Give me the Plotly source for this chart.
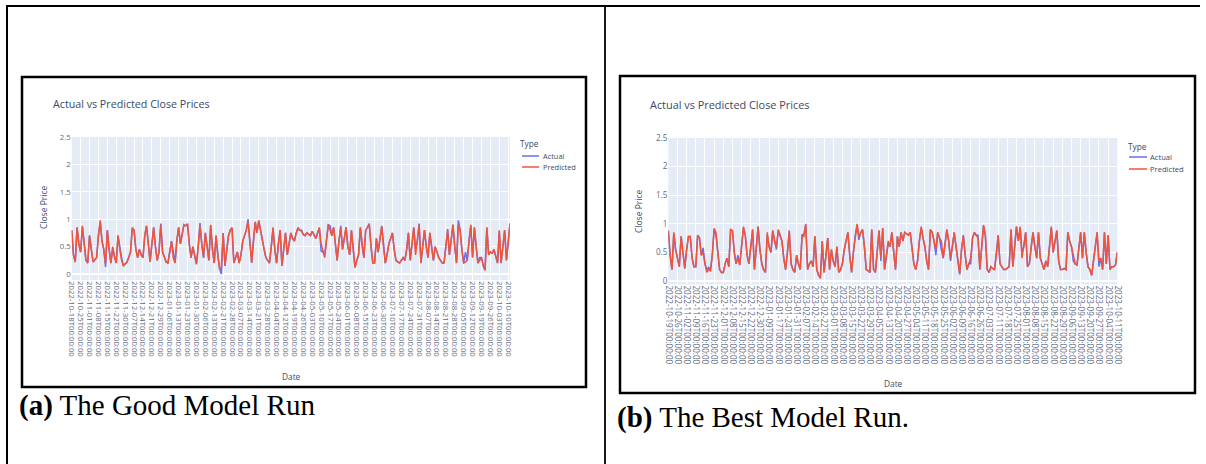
import plotly.graph_objects as go
import pandas as pd

W, H = 1206, 464

# NYSE holidays inside the period (categories are trading days)
holidays = ["2022-11-24", "2022-12-26", "2023-01-02", "2023-01-16", "2023-02-20",
            "2023-04-07", "2023-05-29", "2023-06-19", "2023-07-04", "2023-09-04"]
good_start = "2022-10-18"
best_start = "2022-10-19"

good_predicted = [
    0.80, 0.35, 0.22, 0.85, 0.55, 0.40, 0.88, 0.50, 0.25, 0.20,
    0.70, 0.45, 0.22, 0.26, 0.30, 0.70, 0.98, 0.60, 0.45, 0.18,
    0.80, 0.45, 0.20, 0.50, 0.30, 0.20, 0.70, 0.45, 0.25, 0.15,
    0.18, 0.22, 0.30, 0.40, 0.85, 0.80, 0.45, 0.30, 0.45, 0.35,
    0.30, 0.70, 0.88, 0.50, 0.22, 0.55, 0.85, 0.50, 0.25, 0.40,
    0.90, 0.40, 0.30, 0.22, 0.20, 0.40, 0.60, 0.30, 0.20, 0.60,
    0.85, 0.55, 0.70, 0.90, 0.88, 0.92, 0.55, 0.30, 0.50, 0.35,
    0.18, 0.50, 0.88, 0.55, 0.30, 0.75, 0.50, 0.25, 0.90, 0.45,
    0.20, 0.70, 0.35, 0.10, 0.12, 0.75, 0.15, 0.40, 0.70, 0.80,
    0.85, 0.20, 0.30, 0.40, 0.20, 0.35, 0.60, 0.70, 0.80, 0.95,
    0.55, 0.20, 0.60, 0.95, 0.75, 0.98, 0.80, 0.60, 0.45, 0.30,
    0.25, 0.20, 0.50, 0.85, 0.45, 0.20, 0.55, 0.80, 0.15, 0.45,
    0.75, 0.35, 0.55, 0.75, 0.65, 0.60, 0.75, 0.85, 0.80, 0.78,
    0.72, 0.70, 0.75, 0.72, 0.70, 0.78, 0.72, 0.65, 0.75, 0.85,
    0.55, 0.40, 0.30, 0.60, 0.90, 0.80, 0.70, 0.85, 0.55, 0.25,
    0.60, 0.85, 0.45, 0.65, 0.85, 0.50, 0.35, 0.80, 0.45, 0.12,
    0.25, 0.35, 0.85, 0.55, 0.30, 0.80, 0.85, 0.90, 0.50, 0.20,
    0.20, 0.65, 0.40, 0.60, 0.88, 0.50, 0.20, 0.35, 0.55, 0.65,
    0.75, 0.45, 0.25, 0.22, 0.20, 0.25, 0.30, 0.25, 0.45, 0.75,
    0.25, 0.55, 0.85, 0.35, 0.60, 0.90, 0.20, 0.50, 0.80, 0.50,
    0.30, 0.75, 0.45, 0.25, 0.50, 0.40, 0.30, 0.25, 0.20, 0.20,
    0.50, 0.80, 0.35, 0.60, 0.90, 0.50, 0.20, 0.90, 0.80, 0.45,
    0.20, 0.22, 0.25, 0.60, 0.90, 0.30, 0.85, 0.50, 0.20, 0.25,
    0.30, 0.15, 0.07, 0.85, 0.35, 0.40, 0.38, 0.45, 0.30, 0.20,
    0.80, 0.20, 0.50, 0.80, 0.25, 0.55, 0.92,
]

good_actual = [
    0.80, 0.35, 0.22, 0.85, 0.55, 0.40, 0.86, 0.50, 0.25, 0.20,
    0.70, 0.45, 0.22, 0.26, 0.30, 0.70, 0.96, 0.60, 0.45, 0.13,
    0.80, 0.45, 0.20, 0.47, 0.30, 0.20, 0.70, 0.45, 0.30, 0.15,
    0.18, 0.22, 0.30, 0.40, 0.83, 0.80, 0.45, 0.30, 0.45, 0.35,
    0.30, 0.70, 0.88, 0.50, 0.22, 0.55, 0.85, 0.50, 0.25, 0.40,
    0.92, 0.40, 0.30, 0.22, 0.20, 0.40, 0.60, 0.42, 0.20, 0.60,
    0.85, 0.55, 0.70, 0.90, 0.88, 0.90, 0.55, 0.30, 0.50, 0.35,
    0.18, 0.50, 0.93, 0.55, 0.30, 0.75, 0.50, 0.25, 0.88, 0.45,
    0.20, 0.70, 0.35, 0.10, 0.00, 0.75, 0.15, 0.40, 0.70, 0.80,
    0.83, 0.20, 0.30, 0.40, 0.20, 0.35, 0.60, 0.70, 0.80, 1.00,
    0.55, 0.20, 0.60, 0.95, 0.75, 0.97, 0.80, 0.60, 0.45, 0.30,
    0.25, 0.20, 0.50, 0.83, 0.45, 0.20, 0.55, 0.80, 0.15, 0.45,
    0.75, 0.35, 0.55, 0.75, 0.65, 0.60, 0.75, 0.82, 0.80, 0.80,
    0.72, 0.70, 0.75, 0.72, 0.70, 0.78, 0.72, 0.65, 0.75, 0.83,
    0.42, 0.40, 0.36, 0.60, 0.90, 0.88, 0.70, 0.85, 0.55, 0.25,
    0.60, 0.88, 0.45, 0.65, 0.85, 0.50, 0.35, 0.80, 0.45, 0.12,
    0.25, 0.35, 0.85, 0.50, 0.30, 0.80, 0.85, 0.92, 0.50, 0.20,
    0.20, 0.65, 0.40, 0.60, 0.87, 0.56, 0.20, 0.35, 0.55, 0.65,
    0.75, 0.45, 0.25, 0.22, 0.20, 0.25, 0.30, 0.25, 0.45, 0.75,
    0.25, 0.55, 0.85, 0.45, 0.60, 0.92, 0.20, 0.50, 0.80, 0.50,
    0.30, 0.75, 0.45, 0.25, 0.50, 0.40, 0.30, 0.25, 0.20, 0.20,
    0.50, 0.82, 0.35, 0.60, 0.90, 0.50, 0.20, 0.98, 0.80, 0.45,
    0.20, 0.40, 0.25, 0.60, 0.88, 0.30, 0.85, 0.50, 0.20, 0.30,
    0.30, 0.15, 0.07, 0.85, 0.35, 0.40, 0.38, 0.45, 0.30, 0.20,
    0.78, 0.20, 0.50, 0.80, 0.25, 0.55, 0.92,
]

best_predicted = [
    0.88, 0.45, 0.20, 0.85, 0.55, 0.40, 0.25, 0.78, 0.50, 0.22,
    0.55, 0.78, 0.78, 0.40, 0.25, 0.25, 0.80, 0.75, 0.45, 0.50,
    0.30, 0.15, 0.20, 0.18, 0.45, 0.92, 0.85, 0.50, 0.20, 0.15,
    0.15, 0.30, 0.40, 0.25, 0.90, 0.88, 0.50, 0.30, 0.40, 0.28,
    0.60, 0.95, 0.80, 0.45, 0.30, 0.55, 0.90, 0.20, 0.55, 0.95,
    0.55, 0.30, 0.20, 0.15, 0.85, 0.60, 0.50, 0.88, 0.70, 0.60,
    0.90, 0.80, 0.70, 0.40, 0.20, 0.50, 0.88, 0.30, 0.20, 0.15,
    0.45, 0.30, 0.20, 0.80, 0.78, 1.00, 0.20, 0.30, 0.35, 0.25,
    0.78, 0.20, 0.10, 0.05, 0.70, 0.15, 0.45, 0.75, 0.20, 0.55,
    0.35, 0.25, 0.60, 0.15, 0.20, 0.30, 0.55, 0.70, 0.85, 0.45,
    0.15, 0.50, 0.80, 1.00, 0.78, 0.85, 0.90, 0.60, 0.20, 0.18,
    0.15, 0.90, 0.20, 0.15, 0.50, 0.88, 0.40, 0.92, 0.20, 0.45,
    0.70, 0.60, 0.85, 0.50, 0.20, 0.78, 0.60, 0.85, 0.70, 0.85,
    0.82, 0.80, 0.85, 0.55, 0.30, 0.20, 0.35, 0.70, 0.95, 0.75,
    0.60, 0.35, 0.20, 0.90, 0.85, 0.70, 0.55, 0.85, 0.75, 0.70,
    0.40, 0.65, 0.90, 0.70, 0.40, 0.60, 0.85, 0.60, 0.35, 0.12,
    0.55, 0.80, 0.45, 0.20, 0.30, 0.40, 0.75, 0.85, 0.80, 0.75,
    0.20, 0.60, 0.98, 0.80, 0.20, 0.15, 0.25, 0.22, 0.20, 0.45,
    0.80, 0.30, 0.25, 0.20, 0.20, 0.22, 0.25, 0.90, 0.25, 0.60,
    0.95, 0.70, 0.95, 0.40, 0.60, 0.85, 0.25, 0.30, 0.60, 0.85,
    0.60, 0.40, 0.85, 0.40, 0.30, 0.20, 0.35, 0.25, 0.60, 0.95,
    0.50, 0.70, 0.88, 0.35, 0.20, 0.20, 0.22, 0.20, 0.85, 0.70,
    0.60, 0.45, 0.30, 0.28, 0.55, 0.85, 0.40, 0.85, 0.50, 0.25,
    0.20, 0.10, 0.35, 0.60, 0.85, 0.35, 0.40, 0.20, 0.85, 0.30,
    0.80, 0.20, 0.25, 0.25, 0.28, 0.50,
]

best_actual = [
    0.88, 0.45, 0.20, 0.83, 0.55, 0.40, 0.25, 0.78, 0.50, 0.22,
    0.55, 0.78, 0.78, 0.40, 0.25, 0.25, 0.80, 0.75, 0.45, 0.58,
    0.30, 0.20, 0.24, 0.18, 0.45, 0.90, 0.80, 0.50, 0.20, 0.15,
    0.15, 0.30, 0.40, 0.25, 0.90, 0.88, 0.50, 0.30, 0.45, 0.28,
    0.60, 0.93, 0.80, 0.45, 0.30, 0.55, 0.90, 0.20, 0.55, 0.95,
    0.55, 0.30, 0.20, 0.15, 0.80, 0.60, 0.50, 0.88, 0.70, 0.55,
    0.88, 0.80, 0.70, 0.40, 0.20, 0.50, 0.88, 0.30, 0.20, 0.15,
    0.45, 0.30, 0.20, 0.80, 0.82, 0.98, 0.20, 0.30, 0.35, 0.25,
    0.78, 0.20, 0.10, 0.05, 0.70, 0.15, 0.45, 0.75, 0.20, 0.55,
    0.35, 0.25, 0.60, 0.15, 0.20, 0.30, 0.55, 0.70, 0.85, 0.45,
    0.15, 0.50, 0.80, 0.97, 0.72, 0.85, 0.90, 0.60, 0.20, 0.18,
    0.15, 0.90, 0.20, 0.15, 0.50, 0.88, 0.35, 0.92, 0.20, 0.45,
    0.65, 0.60, 0.85, 0.50, 0.20, 0.78, 0.60, 0.85, 0.70, 0.85,
    0.82, 0.80, 0.85, 0.55, 0.30, 0.20, 0.35, 0.70, 0.93, 0.75,
    0.60, 0.35, 0.20, 0.90, 0.85, 0.70, 0.45, 0.85, 0.75, 0.55,
    0.40, 0.65, 0.90, 0.70, 0.35, 0.60, 0.85, 0.60, 0.35, 0.12,
    0.55, 0.80, 0.45, 0.20, 0.30, 0.30, 0.75, 0.85, 0.80, 0.80,
    0.20, 0.60, 0.96, 0.80, 0.20, 0.15, 0.25, 0.22, 0.20, 0.50,
    0.80, 0.30, 0.25, 0.20, 0.20, 0.22, 0.25, 0.90, 0.25, 0.60,
    0.95, 0.70, 0.92, 0.50, 0.60, 0.85, 0.25, 0.30, 0.60, 0.85,
    0.60, 0.40, 0.85, 0.40, 0.30, 0.20, 0.35, 0.25, 0.60, 0.93,
    0.50, 0.70, 0.88, 0.35, 0.20, 0.20, 0.22, 0.20, 0.85, 0.70,
    0.60, 0.35, 0.30, 0.28, 0.55, 0.85, 0.40, 0.85, 0.50, 0.25,
    0.20, 0.10, 0.35, 0.60, 0.85, 0.25, 0.40, 0.20, 0.85, 0.30,
    0.80, 0.20, 0.25, 0.25, 0.28, 0.50,
]

chart_title = "Actual vs Predicted Close Prices"
x_title = "Date"
y_title = "Close Price"
legend_title = "Type"
series_names = ["Actual", "Predicted"]
captions = ["<b>(a)</b> The Good Model Run", "<b>(b)</b> The Best Model Run."]

ACTUAL_C = "#636efa"
PRED_C = "#EF553B"
TXT = "#3a4a68"
TICK = "#5f6c86"


def trading_days(start, n):
    d = pd.bdate_range(start=start, periods=n, freq="C", holidays=holidays)
    return [x.strftime("%Y-%m-%dT%H:%M:%S") for x in d]


def fx(x):
    return x / W


def fy(y):
    return 1 - y / H


cats_good = trading_days(good_start, len(good_predicted))
cats_best = trading_days(best_start, len(best_predicted))

fig = go.Figure()
fig.add_trace(go.Scatter(x=cats_good, y=good_actual, mode="lines", name=series_names[0],
                         line=dict(color=ACTUAL_C, width=1.5), xaxis="x", yaxis="y"))
fig.add_trace(go.Scatter(x=cats_good, y=good_predicted, mode="lines", name=series_names[1],
                         line=dict(color=PRED_C, width=1.5), xaxis="x", yaxis="y"))
fig.add_trace(go.Scatter(x=cats_best, y=best_actual, mode="lines", name=series_names[0],
                         line=dict(color=ACTUAL_C, width=1.5), xaxis="x2", yaxis="y2"))
fig.add_trace(go.Scatter(x=cats_best, y=best_predicted, mode="lines", name=series_names[1],
                         line=dict(color=PRED_C, width=1.5), xaxis="x2", yaxis="y2"))


def xaxis_cfg(cats, dom, anchor, size):
    return dict(type="category", domain=dom, anchor=anchor, range=[0, len(cats) - 1],
                tickmode="array", tickvals=cats[::5], ticktext=cats[::5], tickangle=90,
                tickfont=dict(size=size, color=TICK, family="Open Sans"),
                showgrid=True, gridcolor="white", gridwidth=0.8, zeroline=False,
                showline=False, ticks="", automargin=False)


def yaxis_cfg(dom, anchor, rng, size):
    return dict(domain=dom, anchor=anchor, range=rng, tick0=0, dtick=0.5,
                tickfont=dict(size=size, color=TICK, family="Open Sans"),
                showgrid=True, gridcolor="white", gridwidth=0.8,
                zeroline=True, zerolinecolor="white", zerolinewidth=1.5,
                showline=False, ticks="", automargin=False)


fig.update_layout(
    width=W, height=H, margin=dict(l=0, r=0, t=0, b=0, pad=0), autosize=False,
    paper_bgcolor="white", plot_bgcolor="#E5ECF6", showlegend=False,
    font=dict(family="Open Sans", color=TXT),
    xaxis=xaxis_cfg(cats_good, [fx(71.7), fx(510)], "y", 7.8),
    yaxis=yaxis_cfg([fy(280), fy(137)], "x", [-0.109, 2.5], 7.8),
    xaxis2=xaxis_cfg(cats_best, [fx(668.3), fx(1117.3)], "y2", 8.1),
    yaxis2=yaxis_cfg([fy(284.5), fy(138)], "x2", [-0.061, 2.5], 8.1),
)

shapes = []
# table lines
shapes.append(dict(type="line", xref="paper", yref="paper", x0=fx(6), x1=fx(1200), y0=fy(6), y1=fy(6),
                   line=dict(color="black", width=2)))
shapes.append(dict(type="line", xref="paper", yref="paper", x0=fx(7), x1=fx(7), y0=fy(5), y1=fy(464),
                   line=dict(color="black", width=2)))
shapes.append(dict(type="line", xref="paper", yref="paper", x0=fx(605), x1=fx(605), y0=fy(5), y1=fy(464),
                   line=dict(color="black", width=1.8)))
# image frames
shapes.append(dict(type="rect", xref="paper", yref="paper", x0=fx(22), x1=fx(586), y0=fy(387), y1=fy(77),
                   line=dict(color="black", width=2.5)))
shapes.append(dict(type="rect", xref="paper", yref="paper", x0=fx(620), x1=fx(1195), y0=fy(393), y1=fy(76),
                   line=dict(color="black", width=2.5)))
# legend swatches
for (x0, x1, y, c) in [(522, 539, 156, ACTUAL_C), (522, 539, 167, PRED_C),
                       (1129, 1147, 157, ACTUAL_C), (1129, 1147, 169, PRED_C)]:
    shapes.append(dict(type="line", xref="paper", yref="paper", x0=fx(x0), x1=fx(x1), y0=fy(y), y1=fy(y),
                       line=dict(color=c, width=1.5)))

ann = []


def add_text(text, x, y, size, xanchor="left", color=TXT, angle=0, family="Open Sans"):
    ann.append(dict(text=text, x=fx(x), y=fy(y), xref="paper", yref="paper", xanchor=xanchor,
                    yanchor="middle", showarrow=False, textangle=angle,
                    font=dict(size=size, color=color, family=family)))


add_text(chart_title, 51, 104, 10.7)
add_text(chart_title, 648, 104, 10.9)
add_text(y_title, 43, 208, 8.5, xanchor="center", angle=-90)
add_text(y_title, 638, 212, 8.5, xanchor="center", angle=-90)
add_text(x_title, 291, 376, 8.3, xanchor="center")
add_text(x_title, 893, 383, 8.3, xanchor="center")
add_text(legend_title, 518, 144, 8.3)
add_text(legend_title, 1126, 146, 8.3)
add_text(series_names[0], 541, 156, 7.4)
add_text(series_names[1], 541, 167, 7.4)
add_text(series_names[0], 1148, 157, 7.6)
add_text(series_names[1], 1148, 169, 7.6)
add_text(captions[0], 17, 405, 29, color="black", family="Liberation Serif")
add_text(captions[1], 615, 417, 29, color="black", family="Liberation Serif")

fig.update_layout(shapes=shapes, annotations=ann)
fig.write_html(
    "out.html",
    config={"displayModeBar": False},
    post_script="document.documentElement.style.margin='0';document.body.style.margin='0';"
                "document.body.style.padding='0';document.body.style.overflow='hidden';",
)
